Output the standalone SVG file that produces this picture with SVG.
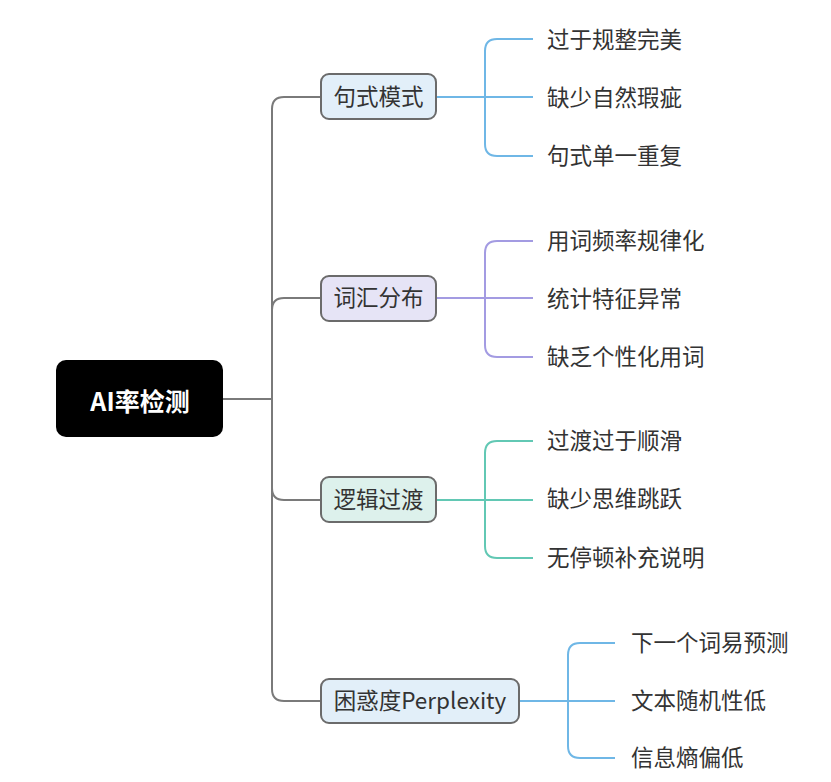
<svg xmlns="http://www.w3.org/2000/svg" width="831" height="782" viewBox="0 0 831 782">
<style>
text{font-family:"Noto Sans CJK SC","Noto Sans",sans-serif;dominant-baseline:central;}
.lbl{font-size:22.5px;fill:#333;}
.node{stroke:#6b6b6b;stroke-width:2;}
.trunk{fill:none;stroke:#7a7a7a;stroke-width:2;}
.b{fill:none;stroke:#6fb7e6;stroke-width:2;}
.p{fill:none;stroke:#a39be2;stroke-width:2;}
.t{fill:none;stroke:#62c8b4;stroke-width:2;}
</style>
<rect width="831" height="782" fill="#ffffff"/>
<g id="connectors">
<path class="trunk" d="M223 399 H272"/>
<path class="trunk" d="M321 97 H284 Q272 97 272 109 V689 Q272 701 284 701 H321"/>
<path class="trunk" d="M272 310 Q272 298 284 298 H321"/>
<path class="trunk" d="M272 488 Q272 500 284 500 H321"/>
<path class="b" d="M436 97 H533 M533 39 H497 Q485 39 485 51 V144 Q485 156 497 156 H533"/>
<path class="p" d="M436 298 H533 M533 241 H497 Q485 241 485 253 V345 Q485 357 497 357 H533"/>
<path class="t" d="M436 500 H533 M533 441 H497 Q485 441 485 453 V546 Q485 558 497 558 H533"/>
<path class="b" d="M519 701 H615 M615 643 H580 Q568 643 568 655 V746 Q568 758 580 758 H615"/>
</g>
<g id="root">
<rect x="56" y="360" width="167" height="77" rx="10" fill="#000"/>
<text x="140" y="400" text-anchor="middle" style="font-size:25px;font-weight:bold;fill:#fff">AI率检测</text>
</g>
<g id="n1">
<rect class="node" x="321" y="74" width="115" height="45" rx="8" fill="#e2eff9"/>
<text class="lbl" x="378.5" y="95" text-anchor="middle">句式模式</text>
</g>
<g id="n2">
<rect class="node" x="321" y="276" width="115" height="45" rx="8" fill="#e6e4f6"/>
<text class="lbl" x="378.5" y="296" text-anchor="middle">词汇分布</text>
</g>
<g id="n3">
<rect class="node" x="321" y="477" width="115" height="45" rx="8" fill="#ddf1ec"/>
<text class="lbl" x="378.5" y="498" text-anchor="middle">逻辑过渡</text>
</g>
<g id="n4">
<rect class="node" x="321" y="679" width="198" height="44" rx="8" fill="#e2eff9"/>
<text class="lbl" x="420" y="699" text-anchor="middle">困惑度Perplexity</text>
</g>
<g id="c1a"><text class="lbl" x="547" y="38">过于规整完美</text></g>
<g id="c1b"><text class="lbl" x="547" y="96">缺少自然瑕疵</text></g>
<g id="c1c"><text class="lbl" x="547" y="154">句式单一重复</text></g>
<g id="c2a"><text class="lbl" x="547" y="239">用词频率规律化</text></g>
<g id="c2b"><text class="lbl" x="547" y="297">统计特征异常</text></g>
<g id="c2c"><text class="lbl" x="547" y="355">缺乏个性化用词</text></g>
<g id="c3a"><text class="lbl" x="547" y="439">过渡过于顺滑</text></g>
<g id="c3b"><text class="lbl" x="547" y="497">缺少思维跳跃</text></g>
<g id="c3c"><text class="lbl" x="547" y="556">无停顿补充说明</text></g>
<g id="c4a"><text class="lbl" x="631" y="641">下一个词易预测</text></g>
<g id="c4b"><text class="lbl" x="631" y="699">文本随机性低</text></g>
<g id="c4c"><text class="lbl" x="631" y="756">信息熵偏低</text></g>
</svg>
